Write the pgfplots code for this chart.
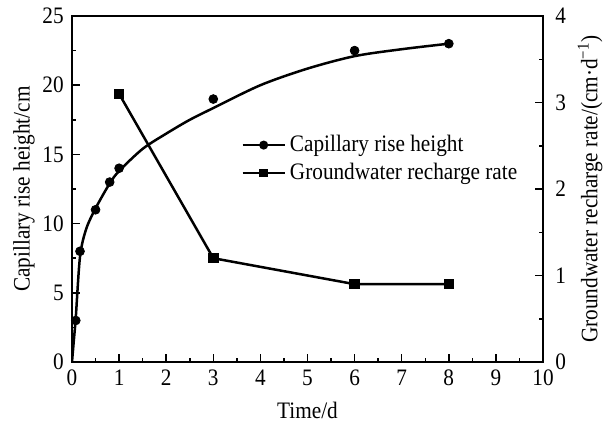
\documentclass[border=0pt]{standalone}
\usepackage{fontspec}
\setmainfont{Liberation Serif}[FakeStretch=0.9]
\usepackage{pgfplots}
\pgfplotsset{compat=1.18}
\newcommand\chartfont{\fontsize{11.8}{13}\selectfont}
\begin{document}
\chartfont
\begin{tikzpicture}
\pgfplotsset{
  every axis/.append style={
    scale only axis, width=235.5pt, height=173pt,
    at={(0,0)}, anchor=south west,
    xmin=0, xmax=10,
    axis line style={line width=0.75pt},
    tick style={line width=0.75pt, black},
    tick align=inside, major tick length=4pt, minor tick length=2pt,
    /pgf/number format/assume math mode=true,
    font=\chartfont,
    label style={font=\chartfont},
  },
}
% left axis: capillary rise height
\begin{axis}[
  ymin=0, ymax=25,
  xtick={0,1,...,10}, minor x tick num=1, xtick pos=bottom,
  ytick={0,5,...,25}, minor y tick num=1, ytick pos=left,
  xlabel={Time/d}, ylabel={Capillary rise height/cm},
  xlabel style={at={(axis description cs:0.5,-0.139)}, anchor=center},
  ylabel style={at={(axis description cs:-0.102,0.5)}, anchor=center, rotate=0},
]
% fitted curve
\addplot[line width=1.25pt, smooth, tension=0.5, no markers] coordinates {
  (0,0) (0.04,1.6) (0.08,3.2) (0.17,7.6) (0.3,9.6) (0.5,11.1) (0.8,12.9)
  (1,13.8) (1.5,15.4) (2,16.5) (2.5,17.5) (3,18.35) (4,20.0) (5,21.2)
  (6,22.1) (7,22.6) (8,23.0)
};
% measured heights
\addplot[only marks, mark=*, mark size=2.2pt] coordinates {
  (0.08,3) (0.17,8) (0.5,11) (0.8,13) (1,14) (3,19) (6,22.5) (8,23)
};
\end{axis}
% right axis: groundwater recharge rate
\begin{axis}[
  ymin=0, ymax=4,
  axis x line=none, axis y line*=right,
  ytick={0,1,...,4}, minor y tick num=1,
  yticklabel style={xshift=2pt},
  ylabel={Groundwater recharge rate/(cm·d\textsuperscript{−1})},
  ylabel style={at={(axis description cs:1.10,0.5)}, anchor=center},
  legend style={draw=none, fill=none, at={(0.346,0.68)}, anchor=north west,
    font=\chartfont, row sep=0pt},
  legend cell align=left,
  legend image code/.code={
    \draw[mark repeat=2, mark phase=2, #1] plot coordinates {(0cm,0cm) (0.37cm,0cm) (0.74cm,0cm)};
  },
]
\addlegendimage{line width=1.25pt, mark=*, mark size=1.6pt}
\addlegendentry{Capillary rise height}
\addlegendimage{line width=1.25pt, mark=square*, mark size=1.6pt}
\addlegendentry{Groundwater recharge rate}
\addplot[line width=1.25pt, mark=square*, mark size=2pt, forget plot] coordinates {
  (1,3.1) (3,1.2) (6,0.9) (8,0.9)
};
\end{axis}
\pgfresetboundingbox
\path[use as bounding box] (-36pt,-31pt) rectangle (266pt,181pt);
\end{tikzpicture}
\end{document}
